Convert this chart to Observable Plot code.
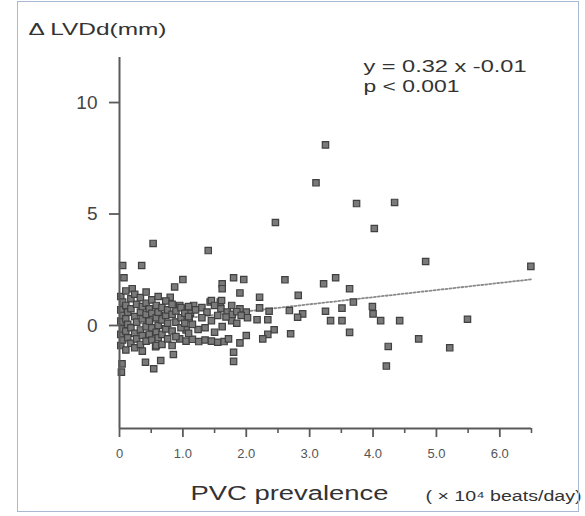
<!DOCTYPE html>
<html><head><meta charset="utf-8">
<script src="https://cdn.jsdelivr.net/npm/d3@7"></script>
<script src="https://cdn.jsdelivr.net/npm/@observablehq/plot@0.6"></script>
<style>
body{margin:0;background:#fff;}
#wrap{position:relative;width:585px;height:516px;overflow:hidden;}
#frame{position:absolute;left:17px;top:1px;width:562px;height:511px;border:1.5px solid #a7bad5;box-sizing:border-box;pointer-events:none;}
#wrap svg{position:absolute;left:0;top:0;}
</style>
</head><body>
<div id="wrap"><div id="frame"></div></div>
<script>
// ---- data ----
const pvcX = [
  3.25,3.10,3.74,4.34,4.02,2.46,1.40,0.53,0.35,0.05,4.83,6.49,
  3.22,3.41,3.63,3.69,3.25,3.51,3.33,3.51,3.99,4.00,4.12,4.42,3.63,4.24,4.72,5.21,5.49,4.21,
  2.82,2.89,1.96,2.61,2.21,2.21,2.00,2.36,2.68,2.02,2.17,2.34,2.81,2.44,2.34,2.26,2.00,2.70,
  1.00,1.62,1.80,1.62,1.90,0.07,0.87,0.20,1.43,1.59,0.80,1.17,1.24,1.45,1.77,1.90,1.80,1.80,0.85,0.57,0.41,0.65,0.54,0.04,0.03,
  0.95,1.05,1.15,1.25,1.35,1.45,1.55,1.65,1.72,
  0.95,1.05,1.12,1.20,1.30,1.38,1.45,1.61,1.50,1.60,1.77,1.90,1.70,1.78,1.85,1.10,1.30,1.55,1.68,1.92,1.05,1.15,1.35,1.50,1.62,1.85,
  0.02,0.02,0.02,0.02,0.02,
  0.05,0.05,0.05,0.05,
  0.10,0.10,0.10,0.10,0.10,
  0.13,0.13,0.13,
  0.18,0.18,0.18,0.18,
  0.24,0.24,0.24,0.24,
  0.27,0.27,0.27,
  0.33,0.33,0.33,0.33,
  0.36,0.36,0.36,0.36,
  0.42,0.42,0.42,0.42,0.42,
  0.47,0.47,0.47,
  0.51,0.51,0.51,0.51,
  0.58,0.58,0.58,0.58,
  0.61,0.61,0.61,0.61,
  0.67,0.67,0.67,0.67,
  0.73,0.73,0.73,
  0.76,0.76,0.76,
  0.83,0.83,0.83,0.83,
  0.89,0.89,0.89,
  0.97,0.97,0.97,
  1.03,1.03,
  1.09,1.09,1.09
];
const dLVDd = [
  8.1,6.4,5.47,5.52,4.35,4.62,3.36,3.68,2.69,2.69,2.87,2.65,
  1.87,2.14,1.65,1.05,0.64,0.78,0.22,0.22,0.85,0.52,0.22,0.22,-0.31,-0.94,-0.60,-1.00,0.28,-1.82,
  1.35,0.52,2.06,2.05,1.27,0.79,0.60,0.64,0.67,0.35,0.26,0.26,0.37,-0.19,-0.40,-0.60,-0.45,-0.37,
  2.06,1.87,2.14,1.65,1.46,2.14,1.73,1.65,1.05,1.05,1.27,0.90,-0.18,0.22,0.22,-0.78,-1.20,-1.61,-1.30,-0.95,-1.65,-1.57,-1.94,-1.72,-2.09,
  -0.60,-0.70,-0.62,-0.72,-0.65,-0.70,-0.75,-0.72,-0.60,
  0.90,0.75,0.55,0.70,0.80,0.60,1.12,1.12,0.90,0.75,0.90,0.75,0.60,0.50,0.62,0.30,0.35,0.45,0.38,0.45,-0.20,0.05,-0.10,-0.30,-0.05,0.10,
  1.30,0.70,0.20,-0.40,-0.90,
  1.05,0.45,-0.15,-0.65,
  1.55,0.90,0.30,-0.25,-1.10,
  0.60,0.05,-0.55,
  1.20,0.75,-0.10,-0.80,
  1.40,0.40,-0.35,-1.00,
  0.95,0.15,-0.60,
  1.25,0.60,-0.20,-0.85,
  0.85,0.30,-0.45,-1.15,
  1.50,1.00,0.50,-0.05,-0.70,
  0.75,0.20,-0.40,
  1.15,0.55,-0.10,-0.65,
  0.90,0.35,-0.30,-0.90,
  1.30,0.60,0.00,-0.55,
  0.80,0.25,-0.40,-0.85,
  1.10,0.45,-0.15,
  0.70,0.10,-0.60,
  0.95,0.50,-0.25,-0.90,
  0.65,0.15,-0.50,
  0.80,0.35,-0.10,
  0.55,0.10,
  0.85,0.40,-0.35
];
const fitX = [0, 6.5];
const fitY = [-0.01, 2.07];           // y = 0.32 x - 0.01
const xTicks = [0, 1, 2, 3, 4, 5, 6];
const xTickLabels = ["0", "1.0", "2.0", "3.0", "4.0", "5.0", "6.0"];
const xMinorTicks = [0.5, 1.5, 2.5, 3.5, 4.5, 5.5, 6.5];
const yTicks = [0, 5, 10];
const yTickLabels = ["0", "5", "10"];
const yTitle = "\u0394 LVDd(mm)";
const xTitle = "PVC prevalence";
const xUnit = "( \u00d7 10\u2074 beats/day)";
const eqLine = "y = 0.32 x -0.01";
const pLine = "p < 0.001";

const points = pvcX.map((x, i) => ({x, y: dLVDd[i]}));
const fit = fitX.map((x, i) => ({x, y: fitY[i]}));
const font = "'Liberation Sans', Arial, sans-serif";

const plot = Plot.plot({
  width: 585, height: 516,
  marginLeft: 119, marginRight: 54, marginTop: 57, marginBottom: 88,
  x: {domain: [0, 6.5]},
  y: {domain: [-4.62, 12.02]},
  style: {fontFamily: font, background: "transparent", color: "#444"},
  marks: [
    Plot.line(fit, {x: "x", y: "y", stroke: "#8a8a8a", strokeWidth: 1.8, strokeDasharray: "2,2"}),
    Plot.dot(points, {x: "x", y: "y", symbol: "square", r: 3.6, fill: "#7a7a7a", stroke: "#404040", strokeWidth: 1.2}),
    Plot.ruleX([0], {stroke: "#5a5a5a", strokeWidth: 2}),
    Plot.ruleY([-4.62], {stroke: "#5a5a5a", strokeWidth: 2}),
    Plot.axisY({ticks: yTicks, tickFormat: (d, i) => yTickLabels[i], tickSize: 10, tickPadding: 12,
      fontSize: 19, label: null, stroke: "#5a5a5a", strokeWidth: 1.8, fill: "#444"}),
    Plot.axisX({ticks: xTicks, tickFormat: (d, i) => xTickLabels[i], tickSize: 9, tickPadding: 11,
      fontSize: 13, label: null, stroke: "#5a5a5a", strokeWidth: 1.8, fill: "#555"}),
    Plot.axisX({ticks: xMinorTicks, tickFormat: () => "", tickSize: 5, label: null, stroke: "#5a5a5a", strokeWidth: 1.6}),
    Plot.text([yTitle], {frameAnchor: "top-left", textAnchor: "start", lineAnchor: "bottom", dx: -91, dy: -23,
      fontSize: 17, fill: "#333"}),
    Plot.text([eqLine], {frameAnchor: "top-left", textAnchor: "start", lineAnchor: "bottom", dx: 244, dy: 14,
      fontSize: 17, fill: "#333"}),
    Plot.text([pLine], {frameAnchor: "top-left", textAnchor: "start", lineAnchor: "bottom", dx: 244, dy: 34.5,
      fontSize: 17, fill: "#333"}),
    Plot.text([xTitle], {frameAnchor: "bottom-left", textAnchor: "start", lineAnchor: "bottom", dx: 71, dy: 71.5,
      fontSize: 20, fill: "#333"}),
    Plot.text([xUnit], {frameAnchor: "bottom-left", textAnchor: "start", lineAnchor: "bottom", dx: 306, dy: 72,
      fontSize: 14, fill: "#333"})
  ]
});
document.getElementById("wrap").prepend(plot);

const stretch = new Map([[yTitle, 138], [eqLine, 163], [pLine, 96], [xTitle, 198], [xUnit, 156]]);
d3.select(plot).selectAll("text").each(function () {
  const w = stretch.get(this.textContent);
  if (w) d3.select(this).attr("textLength", w).attr("lengthAdjust", "spacingAndGlyphs");
});
</script>
</body></html>
